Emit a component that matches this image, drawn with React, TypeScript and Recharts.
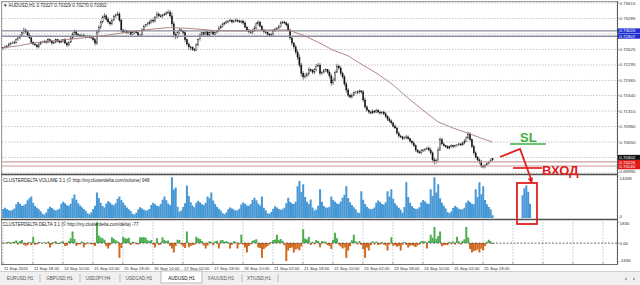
import React from 'react'
import {
  ComposedChart,
  Bar,
  Line,
  XAxis,
  YAxis,
  CartesianGrid,
  ReferenceLine,
  Cell,
} from 'recharts'

const FONT = '"Liberation Sans", Arial, sans-serif'

// AUDUSD H1 closes, price x 10^4, one per bar from 11 Sep 2020 02:00
const FIRST_OPEN = 7265
const CLOSE = [
  7266, 7268, 7270, 7274, 7276, 7276, 7278, 7283, 7287, 7291, 7298, 7304, 7300, 7293, 7287, 7278, 7274, 7272, 7268, 7274, 7278, 7278,
  7280, 7278, 7283, 7280, 7276, 7278, 7283, 7280, 7278, 7280, 7283, 7276, 7272, 7278, 7287, 7295, 7300, 7295, 7293, 7291, 7293, 7291, 7289, 7291,
  7289, 7287, 7283, 7276, 7300, 7310, 7321, 7330, 7334, 7327, 7321, 7317, 7325, 7332, 7336, 7338, 7325, 7304, 7300, 7302, 7298, 7300, 7295, 7298,
  7300, 7298, 7293, 7293, 7304, 7312, 7315, 7317, 7321, 7325, 7323, 7330, 7338, 7334, 7332, 7336, 7338, 7340, 7342, 7334, 7317, 7295, 7289, 7298,
  7304, 7302, 7298, 7283, 7274, 7268, 7266, 7263, 7261, 7272, 7283, 7293, 7298, 7295, 7300, 7293, 7298, 7300, 7295, 7298, 7302, 7308, 7312, 7317,
  7319, 7321, 7323, 7325, 7321, 7323, 7325, 7323, 7321, 7323, 7319, 7310, 7304, 7300, 7298, 7302, 7308, 7317, 7321, 7312, 7304, 7300, 7298, 7295,
  7293, 7295, 7302, 7306, 7308, 7312, 7319, 7321, 7319, 7315, 7304, 7287, 7276, 7268, 7257, 7246, 7229, 7212, 7204, 7206, 7210, 7219, 7217, 7214,
  7219, 7227, 7229, 7212, 7214, 7217, 7219, 7214, 7206, 7191, 7197, 7214, 7227, 7223, 7212, 7204, 7189, 7176, 7165, 7161, 7165, 7170, 7172, 7170,
  7174, 7172, 7155, 7140, 7133, 7129, 7127, 7131, 7129, 7133, 7129, 7127, 7129, 7125, 7119, 7114, 7110, 7106, 7099, 7095, 7084, 7078, 7076, 7072,
  7074, 7076, 7072, 7067, 7063, 7057, 7048, 7044, 7042, 7046, 7048, 7050, 7052, 7048, 7042, 7027, 7023, 7025, 7048, 7070, 7061, 7057, 7055, 7052,
  7055, 7057, 7055, 7057, 7059, 7061, 7059, 7063, 7067, 7074, 7082, 7070, 7055, 7042, 7033, 7027, 7023, 7014, 7012, 7016, 7020, 7023, 7027, 7030,
]
// wick above / below the body, pips
const WICK_UP = [
  2, 3, 2, 3, 2, 4, 3, 2, 3, 4, 3, 5, 3, 2, 4, 3, 2, 3, 2, 3, 2, 3,
  3, 2, 4, 2, 3, 2, 3, 2, 2, 3, 2, 4, 3, 2, 3, 4, 5, 3, 2, 3, 2, 3, 2, 2,
  2, 3, 2, 4, 5, 4, 3, 5, 6, 3, 4, 2, 3, 4, 3, 5, 4, 3, 2, 3, 2, 3, 2, 3,
  2, 3, 2, 3, 4, 3, 2, 4, 3, 2, 3, 4, 5, 3, 4, 2, 3, 4, 5, 4, 8, 5, 4, 3,
  4, 3, 2, 6, 4, 3, 2, 3, 2, 4, 3, 5, 3, 2, 4, 3, 2, 3, 2, 3, 2, 4, 3, 3,
  2, 3, 2, 3, 2, 3, 4, 2, 3, 2, 3, 4, 3, 2, 3, 4, 5, 4, 3, 2, 3, 2, 3, 2,
  2, 3, 4, 3, 2, 3, 4, 3, 2, 3, 4, 3, 2, 3, 4, 5, 6, 5, 4, 6, 4, 5, 3, 4,
  3, 4, 5, 4, 3, 4, 3, 2, 4, 5, 6, 4, 5, 3, 4, 3, 4, 5, 4, 3, 4, 3, 2, 3,
  3, 2, 4, 5, 3, 2, 3, 4, 2, 3, 2, 3, 2, 3, 4, 3, 4, 3, 2, 4, 3, 4, 3, 2,
  3, 4, 3, 2, 3, 4, 3, 2, 3, 4, 3, 2, 3, 4, 5, 3, 4, 5, 6, 5, 4, 3, 2, 3,
  2, 3, 2, 3, 2, 3, 2, 3, 4, 3, 5, 4, 3, 4, 3, 2, 3, 4, 3, 2, 3, 2, 3, 1,
]
const WICK_DN = [
  3, 2, 3, 2, 3, 2, 2, 3, 2, 3, 2, 3, 4, 3, 2, 4, 3, 2, 4, 3, 2, 2,
  2, 3, 2, 3, 4, 2, 3, 2, 3, 2, 3, 2, 4, 3, 2, 3, 2, 3, 4, 2, 3, 2, 3, 2,
  3, 2, 3, 5, 4, 3, 4, 3, 2, 4, 3, 4, 3, 2, 3, 2, 4, 5, 3, 2, 3, 2, 3, 2,
  3, 2, 4, 3, 2, 3, 2, 3, 2, 3, 4, 3, 2, 3, 2, 3, 2, 3, 2, 4, 6, 7, 5, 3,
  3, 2, 4, 5, 4, 6, 5, 4, 3, 2, 3, 2, 3, 4, 2, 3, 2, 3, 2, 3, 2, 3, 2, 3,
  3, 2, 3, 2, 3, 2, 2, 3, 2, 3, 4, 3, 4, 3, 2, 3, 2, 3, 4, 3, 2, 3, 2, 3,
  3, 2, 3, 2, 3, 2, 3, 2, 3, 4, 3, 4, 5, 4, 5, 6, 5, 7, 6, 4, 3, 4, 3, 4,
  4, 3, 2, 5, 4, 3, 3, 4, 5, 6, 4, 3, 2, 4, 5, 4, 5, 6, 4, 3, 3, 2, 3, 3,
  2, 4, 5, 4, 3, 4, 3, 2, 3, 2, 3, 4, 3, 2, 3, 4, 3, 4, 3, 2, 3, 4, 3, 3,
  2, 3, 2, 3, 4, 3, 4, 3, 2, 3, 2, 3, 2, 3, 4, 5, 6, 4, 3, 2, 3, 2, 3, 2,
  3, 2, 3, 2, 3, 2, 3, 2, 3, 2, 3, 4, 3, 4, 3, 4, 5, 4, 3, 3, 2, 3, 2, 3,
]
const VOLUME = [
  3100, 3500, 3000, 2700, 2500, 2800, 3300, 4700, 5500, 4900, 4200, 4300, 4800, 6100, 6800, 7400, 5200, 4100, 3500, 3000, 2300, 1500,
  1200, 1900, 3200, 3900, 3400, 2900, 2600, 2800, 3200, 4900, 5600, 5100, 4400, 4200, 4900, 6800, 8100, 6300, 5100, 4300, 3700, 3100, 2500, 1600,
  1300, 2000, 3100, 4200, 8800, 6900, 5200, 4100, 3600, 5000, 5800, 5300, 4600, 4400, 5100, 6600, 7400, 6200, 5300, 4400, 3600, 3000, 2400, 1500,
  1200, 1800, 2900, 3700, 3300, 2800, 2600, 2700, 3100, 4500, 5200, 4700, 4200, 4000, 4800, 6300, 7400, 6100, 5000, 4400, 14000, 9800, 10500, 3900,
  2200, 2600, 3800, 5100, 11200, 7600, 5400, 4300, 3700, 5200, 5900, 5400, 4700, 4500, 5200, 7400, 6800, 8800, 6000, 4800, 3900, 3200, 2600, 1700,
  1300, 1900, 3000, 3600, 3300, 2900, 2600, 2700, 3200, 4600, 5300, 4900, 4300, 4200, 4800, 6200, 7000, 6100, 5000, 4300, 7400, 3500, 2700, 1600,
  1500, 2100, 3200, 4000, 3600, 3100, 2800, 3000, 3500, 5100, 7000, 5600, 5000, 4800, 5600, 10900, 12700, 8900, 11600, 7200, 5600, 4800, 6400, 3600,
  2600, 2900, 4200, 9900, 5600, 4100, 3600, 3500, 3900, 7400, 6200, 5600, 5000, 4800, 5700, 7000, 8000, 10900, 6900, 5400, 4500, 3700, 3000, 1900,
  1700, 9200, 6300, 4800, 3900, 3300, 3000, 3100, 3600, 5200, 6000, 5500, 4800, 4600, 5400, 9200, 7400, 9900, 6600, 5100, 4200, 3500, 2800, 1800,
  3800, 12300, 7200, 5200, 4100, 3400, 3100, 3200, 3700, 5400, 6200, 5700, 5000, 4800, 9900, 7600, 14000, 8800, 11600, 6800, 5200, 4200, 3300, 2100,
  1600, 2200, 3400, 4100, 3700, 3200, 2900, 3000, 3500, 5200, 6000, 5500, 4900, 4700, 9900, 7200, 12300, 8200, 10900, 6200, 4700, 3800, 2900, 948,
]
const DELTA = [
  60, -40, 80, 120, -60, 90, 150, 220, -120, 180, 260, -150, -220, -180, 90, -180, 550, -140, -90, 120, 60, -30,
  80, -60, 150, -370, -120, 90, 160, -80, -60, 110, 130, -240, -200, 180, 420, 1000, 350, -220, -120, -90, 150, -370, -110, 60,
  -60, -90, -150, -260, 1830, 650, 480, 420, 300, -280, -460, -180, 500, 380, 240, 160, -1280, -420, 550, 420, 380, 460, -160, 120,
  80, -90, -120, 500, 480, 520, 460, 240, 180, 260, -150, -370, 420, -160, -120, 500, 260, 180, 220, -260, -460, -820, -240, 300,
  260, -120, -280, -420, 1000, -360, -240, -180, -150, 550, 420, 360, 180, -200, -460, -220, 160, 120, -180, 140, 200, -460, 240, 260,
  120, 180, 90, -460, -140, 160, 120, -460, -90, 730, -150, -380, -820, -260, -120, 200, 260, 340, -370, -420, -1280, -520, -380, -240,
  -120, 90, 260, 320, 730, 280, 360, 200, -180, -1550, -640, -420, -380, -820, -560, -480, -620, -300, 1200, 400, 320, 550, -160, 120,
  -90, 260, 180, -360, 160, 140, 120, -180, -240, -520, 300, 900, 420, -140, -300, -460, -380, -1280, -640, -280, 240, 730, 160, -120,
  180, -160, -520, -1280, -380, -640, -180, 160, -120, 140, -160, -120, 90, -140, -200, -640, -120, 500, -220, -180, -320, -260, -640, -150,
  90, -160, -370, -220, -180, -280, -340, -200, -120, 180, 160, 140, -460, 200, 730, 460, 1400, 380, 620, 1000, -280, -180, -160, -180,
  120, -90, 140, -110, 550, 160, -120, 200, 340, 1400, 480, -520, -820, -680, -640, -560, -820, -480, -640, -260, 120, 300, 160, -77,
]
// moving average read every 8 bars
const MA_BARS = [0, 8, 16, 24, 32, 40, 48, 56, 64, 72, 80, 88, 96, 104, 112, 120, 128, 136, 144, 152, 160, 168, 176, 184, 192, 200, 208, 216, 224, 232, 240, 248, 256, 261]
const MA_VALUES = [7266, 7270, 7276, 7280, 7283, 7286, 7289, 7293, 7298, 7302, 7306, 7309, 7308, 7306, 7303, 7302, 7302, 7304, 7304, 7304, 7293, 7278, 7261, 7249, 7229, 7210, 7187, 7159, 7133, 7108, 7095, 7084, 7072, 7065]
// volume snippet pasted inside the red box
const BOX_BARS = [277, 278, 279, 280, 281]
const BOX_VOLUME = [7800, 10200, 11200, 9000, 4900]

const X_LABELS = [
  '11 Sep 2020', '11 Sep 18:00', '14 Sep 10:00', '15 Sep 02:00', '15 Sep 18:00', '16 Sep 10:00',
  '17 Sep 02:00', '17 Sep 18:00', '18 Sep 10:00', '21 Sep 02:00', '21 Sep 18:00', '22 Sep 10:00',
  '23 Sep 02:00', '23 Sep 18:00', '24 Sep 10:00', '25 Sep 02:00', '25 Sep 18:00',
]
const PRICE_TICKS = [0.73615, 0.73285, 0.72955, 0.72625, 0.72295, 0.71965, 0.7164, 0.7131, 0.7098, 0.7065, 0.7032, 0.6999]
const PRICE_HIDDEN = [0.72955, 0.7032]
const PRICE_DOMAIN = [0.69969, 0.73636]
const GRAY_LEVELS = [0.7302, 0.72907]
const PINK_LEVELS = [0.70226, 0.7014]
const BID = 0.70302
const VOL_DOMAIN = [0, 14438]
const DELTA_DOMAIN = [-1636, 1830]

const SLOTS = 328
const X_TICKS = Array.from({ length: 21 }, (_, k) => k * 16)

const rows: any[] = Array.from({ length: SLOTS }, (_, i) => {
  const row: any = { i }
  if (i < CLOSE.length) {
    const o = (i === 0 ? FIRST_OPEN : CLOSE[i - 1]) / 1e4
    const c = CLOSE[i] / 1e4
    row.o = o
    row.c = c
    row.range = [Math.min(o, c) - WICK_DN[i] / 1e4, Math.max(o, c) + WICK_UP[i] / 1e4]
    row.vol = VOLUME[i]
    row.delta = DELTA[i]
  }
  return row
})
MA_BARS.forEach((b, k) => (rows[b].ma = MA_VALUES[k] / 1e4))
BOX_BARS.forEach((b, k) => (rows[b].vol = BOX_VOLUME[k]))

function Candle(props: any) {
  const { x, y, width, height, payload } = props
  if (!payload || payload.o == null) return null
  const [lo, hi] = payload.range
  const top = Math.min(y, y + height)
  const h = Math.abs(height)
  const k = h / (hi - lo)
  const cx = x + width / 2
  const yo = top + (hi - payload.o) * k
  const yc = top + (hi - payload.c) * k
  const bull = payload.c >= payload.o
  return (
    <g>
      <line x1={cx} x2={cx} y1={top} y2={top + h} stroke="#111" strokeWidth={0.55} />
      <rect
        x={cx - 0.6}
        y={Math.min(yo, yc)}
        width={1.2}
        height={Math.max(Math.abs(yo - yc), 0.6)}
        fill={bull ? '#fff' : '#111'}
        stroke="#111"
        strokeWidth={0.35}
      />
    </g>
  )
}

// dy per tick value keeps the edge labels inside their window
const axisTick = (fmt: (v: number) => string, nudge: (v: number) => number) => (props: any) => {
  const { y, payload } = props
  const v = payload.value
  const label = fmt(v)
  if (!label) return null
  return (
    <g>
      <line x1={617} x2={619} y1={y} y2={y} stroke="#666" strokeWidth={0.6} />
      <text x={619.5} y={y + 1.6 + nudge(v)} fontSize={4.4} fill="#333" fontFamily={FONT}>
        {label}
      </text>
    </g>
  )
}

const priceTick = axisTick(
  (v) => (PRICE_HIDDEN.includes(v) ? '' : v.toFixed(5)),
  (v) => (v === PRICE_TICKS[PRICE_TICKS.length - 1] ? -1.3 : v === PRICE_TICKS[0] ? 0.8 : 0),
)
const volTick = axisTick(
  (v) => String(v),
  (v) => (v === VOL_DOMAIN[1] ? 2 : -1.5),
)
const deltaTick = axisTick(
  (v) => (v === 0 ? '0.00' : String(v)),
  (v) => (v === DELTA_DOMAIN[1] ? 1.5 : v === DELTA_DOMAIN[0] ? -1.2 : 0),
)

function TimeTick(props: any) {
  const { x, y, payload } = props
  const label = X_LABELS[payload.value / 16]
  return (
    <g>
      <line x1={x} x2={x} y1={y} y2={y + 2} stroke="#666" strokeWidth={0.6} />
      {label && (
        <text x={x + 1} y={y + 8} fontSize={4.3} fill="#333" fontFamily={FONT}>
          {label}
        </text>
      )}
    </g>
  )
}

const tag = (text: string, bg: string, dy: number) => (props: any) => {
  const vb = props.viewBox || {}
  const yy = vb.y + dy
  return (
    <g>
      <rect x={617.5} y={yy - 2.5} width={22.5} height={5} fill={bg} />
      <text x={619.3} y={yy + 1.6} fontSize={4.4} fill="#fff" fontFamily={FONT}>
        {text}
      </text>
    </g>
  )
}

const grid = { stroke: '#c6c6c6', strokeDasharray: '1.5 1.5' }

const TABS = [
  { name: 'EURUSD,H1', cx: 20 },
  { name: 'GBPUSD,H1', cx: 59.5 },
  { name: 'USDJPY,H4', cx: 98 },
  { name: 'USDCAD,H1', cx: 139 },
  { name: 'AUDUSD,H1', cx: 181.5 },
  { name: 'XAUUSD,H1', cx: 221 },
  { name: 'XTIUSD,H1', cx: 259 },
]
const TAB_SEPS = [40, 80, 120, 242, 278]

export default function App() {
  return (
    <div
      style={{
        position: 'fixed',
        left: 0,
        top: 0,
        width: 640,
        height: 285,
        background: '#fff',
        overflow: 'hidden',
        fontFamily: FONT,
      }}
    >
      {/* price window */}
      <div style={{ position: 'absolute', left: 0, top: 0 }}>
        <ComposedChart width={640} height={174} data={rows} margin={{ top: 2, right: 0, bottom: 0, left: 2 }} barCategoryGap="10%">
          <CartesianGrid {...grid} />
          <XAxis dataKey="i" type="category" ticks={X_TICKS} interval={0} height={0} tick={false} axisLine={false} tickLine={false} />
          <YAxis
            orientation="right"
            width={23}
            domain={PRICE_DOMAIN}
            allowDataOverflow
            ticks={PRICE_TICKS}
            interval={0}
            tick={priceTick}
            tickLine={false}
            axisLine={false}
            tickSize={0}
            tickMargin={0}
          />
          {GRAY_LEVELS.map((p) => (
            <ReferenceLine key={p} y={p} stroke="#8d8d9c" strokeWidth={1.4} label={tag(p.toFixed(5), '#1f2fcf', 0)} />
          ))}
          {PINK_LEVELS.map((p, k) => (
            <ReferenceLine key={p} y={p} stroke="#c79b9b" strokeWidth={1.2} label={tag(p.toFixed(5), '#e01818', k === 0 ? 0.3 : 0.8)} />
          ))}
          <ReferenceLine y={BID} stroke="none" strokeOpacity={0} label={tag(BID.toFixed(5), '#111', -1)} />
          <Bar dataKey="range" shape={<Candle />} isAnimationActive={false} />
          <Line dataKey="ma" stroke="#a97b7b" strokeWidth={0.9} dot={false} connectNulls isAnimationActive={false} />
        </ComposedChart>
      </div>

      {/* volume window */}
      <div style={{ position: 'absolute', left: 0, top: 175 }}>
        <ComposedChart width={640} height={43} data={rows} margin={{ top: 1, right: 0, bottom: 0, left: 2 }} barCategoryGap="10%">
          <CartesianGrid {...grid} horizontal={false} />
          <XAxis dataKey="i" type="category" ticks={X_TICKS} interval={0} height={0} tick={false} axisLine={false} tickLine={false} />
          <YAxis
            orientation="right"
            width={23}
            domain={VOL_DOMAIN}
            allowDataOverflow
            ticks={VOL_DOMAIN}
            interval={0}
            tick={volTick}
            tickLine={false}
            axisLine={false}
            tickSize={0}
            tickMargin={0}
          />
          <Bar dataKey="vol" fill="#4597d6" isAnimationActive={false} />
        </ComposedChart>
      </div>

      {/* delta window */}
      <div style={{ position: 'absolute', left: 0, top: 220 }}>
        <ComposedChart width={640} height={52} data={rows} margin={{ top: 2, right: 0, bottom: 0, left: 2 }} barCategoryGap="10%">
          <CartesianGrid {...grid} horizontal={false} />
          <XAxis
            dataKey="i"
            type="category"
            ticks={X_TICKS}
            interval={0}
            height={10}
            tick={<TimeTick />}
            axisLine={false}
            tickLine={false}
            tickSize={0}
            tickMargin={0}
          />
          <YAxis
            orientation="right"
            width={23}
            domain={DELTA_DOMAIN}
            allowDataOverflow
            ticks={[DELTA_DOMAIN[0], 0, DELTA_DOMAIN[1]]}
            interval={0}
            tick={deltaTick}
            tickLine={false}
            axisLine={false}
            tickSize={0}
            tickMargin={0}
          />
          <ReferenceLine y={0} stroke="#444" strokeWidth={0.8} strokeDasharray="2 1.5" />
          <Bar dataKey="delta" isAnimationActive={false}>
            {rows.map((r) => (
              <Cell key={r.i} fill={r.delta >= 0 ? '#4cae4f' : '#d2691e'} />
            ))}
          </Bar>
        </ComposedChart>
      </div>

      {/* window frames, titles, drawings, tabs */}
      <svg width={640} height={285} style={{ position: 'absolute', left: 0, top: 0, pointerEvents: 'none' }}>
        <line x1={1} x2={617} y1={1.5} y2={1.5} stroke="#9a9a9a" />
        <line x1={1.5} x2={1.5} y1={1} y2={264} stroke="#9a9a9a" />
        <line x1={617.5} x2={617.5} y1={1} y2={265} stroke="#5a5a5a" />
        <line x1={1} x2={617} y1={174.5} y2={174.5} stroke="#505050" strokeWidth={1.6} />
        <line x1={1} x2={617} y1={219.5} y2={219.5} stroke="#505050" strokeWidth={1.4} />
        <line x1={1} x2={618} y1={264.5} y2={264.5} stroke="#707070" />

        <text x={3} y={6.5} fontSize={4.6} fill="#222">
          ▼ AUDUSD,H1  0.70327 0.70329 0.70270 0.70302
        </text>
        <text x={3} y={181.5} fontSize={4.5} fill="#222">
          CLUSTERDELTA VOLUME 3.1 (© http://my.clusterdelta.com/volume) 948
        </text>
        <text x={3} y={225.5} fontSize={4.5} fill="#222">
          CLUSTERDELTA DELTA 3.1 (© http://my.clusterdelta.com/delta) -77
        </text>

        {/* trader drawings */}
        <line x1={510} x2={546} y1={144} y2={144} stroke="#3cb043" strokeWidth={1.7} />
        <text x={520} y={142} fontSize={13} fontWeight="bold" fill="#3cb043">
          SL
        </text>
        <line x1={513} x2={542} y1={168} y2={168} stroke="#e02020" strokeWidth={1.7} />
        <text x={542} y={175} fontSize={13} fontWeight="bold" fill="#e02020">
          ВХОД
        </text>
        <polyline points="500,157 520,149 531,179" fill="none" stroke="#e02020" strokeWidth={1.8} />
        <polygon points="532,184 527.8,178.8 533,177.2" fill="#e02020" />
        <rect x={517} y={183} width={20} height={41} fill="none" stroke="#e02020" strokeWidth={1.8} />

        {/* tab strip */}
        <rect x={0} y={271} width={640} height={14} fill="#f0f0f0" />
        <line x1={0} x2={640} y1={271.5} y2={271.5} stroke="#cfcfcf" />
        <rect x={161} y={271} width={41} height={12} fill="#fff" stroke="#a0a0a0" strokeWidth={0.7} />
        {TAB_SEPS.map((sx) => (
          <line key={sx} x1={sx} x2={sx} y1={274} y2={282} stroke="#9a9a9a" strokeWidth={0.6} />
        ))}
        {TABS.map((t) => (
          <text
            key={t.name}
            x={t.cx}
            y={279.5}
            fontSize={4.6}
            textAnchor="middle"
            fill={t.name === 'AUDUSD,H1' ? '#111' : '#555'}
          >
            {t.name}
          </text>
        ))}
        <polygon points="624.5,279 627,277.5 627,280.5" fill="#999" />
        <polygon points="635.5,279 633,277.5 633,280.5" fill="#999" />
      </svg>
    </div>
  )
}
